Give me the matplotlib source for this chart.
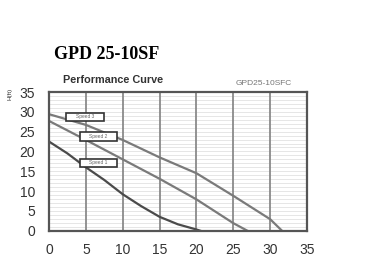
import matplotlib.pyplot as plt
from matplotlib.patches import Rectangle
from matplotlib.ticker import MultipleLocator

# curve points (flow, head in ft)
flow1 = [0, 2.5, 5, 7.5, 10, 12.5, 15, 17.5, 20, 20.5]
head1 = [22.5, 19.5, 16.0, 12.8, 9.2, 6.2, 3.5, 1.6, 0.3, 0]
flow2 = [0, 5, 10, 15, 20, 25, 26.9]
head2 = [27.7, 22.9, 18.0, 13.1, 7.9, 1.9, 0]
flow3 = [0, 5, 10, 15, 20, 25, 30, 31.6]
head3 = [29.4, 26.7, 22.9, 18.5, 14.5, 8.8, 2.9, 0]

speed_labels = ["Speed 1", "Speed 2", "Speed 3"]
label_x = [6.7, 6.7, 4.9]
label_y = [17.1, 23.7, 28.7]

ticks = [0, 5, 10, 15, 20, 25, 30, 35]

plt.rcParams['font.family'] = ['Liberation Sans', 'DejaVu Sans']

fig = plt.figure(figsize=(3.87, 2.73), dpi=100)
ax = fig.add_axes([0.1266, 0.155, 0.6667, 0.508])

ax.set_xlim(0, 35)
ax.set_ylim(0, 35)
ax.set_xticks(ticks)
ax.set_yticks(ticks)
ax.yaxis.set_minor_locator(MultipleLocator(1))
ax.tick_params(which='both', length=0)
ax.tick_params(axis='x', pad=9, labelsize=10, labelcolor='#333333')
ax.tick_params(axis='y', pad=10, labelsize=10, labelcolor='#333333')

# faint horizontal rules, then the darker vertical lines on top
ax.grid(axis='y', which='both', color='#e6e6e6', linewidth=0.7, zorder=0)
ax.set_axisbelow(True)
for t in ticks[1:-1]:
    ax.axvline(t, color='#8a8a8a', linewidth=1.3, zorder=1)
for s in ax.spines.values():
    s.set_color('#555555')
    s.set_linewidth(1.6)

ax.plot(flow1, head1, color='#4a4a4a', linewidth=1.6, zorder=2)
ax.plot(flow2, head2, color='#7a7a7a', linewidth=1.6, zorder=2)
ax.plot(flow3, head3, color='#7a7a7a', linewidth=1.6, zorder=2)

for t, x, y in zip(speed_labels, label_x, label_y):
    ax.add_patch(Rectangle((x - 2.55, y - 1.1), 5.1, 2.2, fc='white',
                           ec='#333333', lw=1.2, zorder=3))
    ax.text(x, y, t, fontsize=3.5, color='#666666', ha='center', va='center',
            zorder=4)

fig.text(0.276, 0.80, "GPD 25-10SF", family='Liberation Serif', fontweight='bold',
         fontsize=13, ha='center', va='center', color='black')
fig.text(0.291, 0.707, "Performance Curve", fontweight='bold', fontsize=7.8,
         ha='center', va='center', color='#333333')
fig.text(0.682, 0.693, "GPD25-10SFC", fontsize=6, ha='center', va='center',
         color='#777777')
fig.text(0.027, 0.655, "H(ft)", fontsize=4.5, rotation=90, ha='center',
         va='center', color='#333333')

fig.savefig("out.png", dpi=100)
